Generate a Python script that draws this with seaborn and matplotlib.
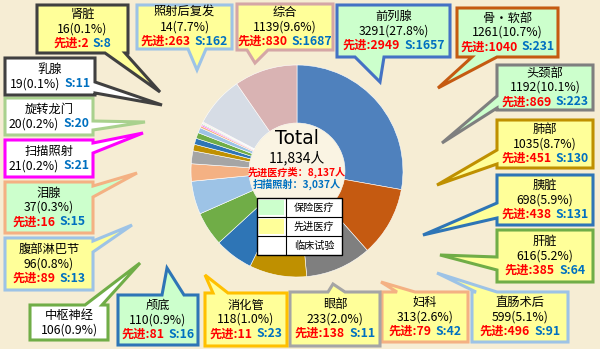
import matplotlib
matplotlib.use('Agg')
import matplotlib.pyplot as plt
import seaborn as sns
from matplotlib.patches import Polygon, Rectangle, Circle
from matplotlib.offsetbox import TextArea, HPacker, VPacker, AnnotationBbox

# ---------------- data ----------------
names = ['前列腺', '骨·软部', '头颈部', '肺部', '胰脏', '肝脏', '直肠术后', '妇科', '眼部', '消化管',
         '颅底', '中枢神经', '腹部淋巴节', '泪腺', '扫描照射', '旋转龙门', '乳腺', '肾脏', '照射后复发', '综合']
counts = [3291, 1261, 1192, 1035, 698, 616, 599, 313, 233, 118,
          110, 106, 96, 37, 21, 20, 19, 16, 914, 1139]
shown_counts = [3291, 1261, 1192, 1035, 698, 616, 599, 313, 233, 118,
                110, 106, 96, 37, 21, 20, 19, 16, 14, 1139]
pct_labels = ['27.8%', '10.7%', '10.1%', '8.7%', '5.9%', '5.2%', '5.1%', '2.6%', '2.0%', '1.0%',
              '0.9%', '0.9%', '0.8%', '0.3%', '0.2%', '0.2%', '0.1%', '0.1%', '7.7%', '9.6%']
advanced = [2949, 1040, 869, 451, 438, 385, 496, 79, 138, 11,
            81, None, 89, 16, None, None, None, 2, 263, 830]
scan = [1657, 231, 223, 130, 131, 64, 91, 42, 11, 23,
        16, None, 13, 15, 21, 20, 11, 8, 162, 1687]
category = ['保险', '保险', '保险', '先进', '先进', '先进', '先进', '先进', '先进', '先进',
            '保险', '临床', '先进', '保险', '临床', '临床', '临床', '先进', '先进', '先进']
total_text = '11,834人'
adv_total_text = '先进医疗类：8,137人'
scan_total_text = '扫描照射：3,037人'
legend_labels = ['保险医疗', '先进医疗', '临床试验']

# ---------------- styles / layout ----------------
slice_colors = ['#4F81BD', '#C55A11', '#7F7F7F', '#BF9000', '#2E75B6', '#70AD47', '#9DC3E6', '#F4B183',
                '#A5A5A5', '#BF9000', '#2E75B6', '#70AD47', '#9DC3E6', '#F4B183', '#FF00FF', '#A9D18E',
                '#DDEBF7', '#F8CBAD', '#D6DCE5', '#D9B3B3']
border_colors = ['#4472C4', '#C55A11', '#7F7F7F', '#BF9000', '#2E75B6', '#70AD47', '#9DC3E6', '#F4B183',
                 '#A5A5A5', '#FFC000', '#2E75B6', '#70AD47', '#9DC3E6', '#F4B183', '#FF00FF', '#A9D18E',
                 '#404040', '#404040', '#9DC3E6', '#D5A6A6']
fill_map = {'保险': '#CCFFCC', '先进': '#FFFF99', '临床': '#FFFFFF'}

# boxes in pixel coords (x0, y0, x1, y1) with y downward; tails (side, a, b, tipx, tipy)
boxes = [(337, 5, 450, 57), (457, 8, 558, 57), (497, 65, 593, 110), (497, 120, 593, 168),
         (497, 175, 593, 225), (497, 230, 593, 282), (472, 292, 568, 342), (382, 292, 468, 342),
         (290, 292, 380, 346), (205, 293, 287, 346), (118, 295, 198, 345), (30, 305, 108, 340),
         (5, 238, 93, 290), (5, 182, 93, 233), (5, 140, 93, 177), (5, 98, 93, 135),
         (5, 58, 95, 95), (37, 5, 128, 53), (137, 5, 232, 49), (237, 4, 333, 50)]
tails = [('b', 355, 384, 380, 82), ('b', 472, 497, 438, 88), ('l', 96, 108, 442, 143),
         ('l', 150, 164, 437, 185), ('l', 203, 218, 423, 235), ('l', 257, 270, 440, 255),
         ('t', 476, 497, 437, 273), ('t', 397, 415, 381, 282), ('t', 328, 345, 333, 284),
         ('t', 213, 228, 205, 275), ('t', 162, 184, 167, 268), ('t', 85, 102, 140, 263),
         ('r', 241, 252, 132, 225), ('r', 186, 197, 137, 173), ('r', 143, 153, 143, 133),
         ('r', 121, 130, 145, 122), ('r', 82, 93, 162, 105), ('b', 105, 125, 160, 92),
         ('b', 188, 206, 197, 70), ('b', 247, 268, 255, 63)]

W, H = 600, 349
BG = '#F6EDD4'
RED = '#FF0000'
BLUE = '#0070C0'
FS = 8.8

sns.set_theme(style='white')
plt.rcParams['font.family'] = ['Noto Sans CJK SC', 'DejaVu Sans']

fig = plt.figure(figsize=(6, 3.49), dpi=100, facecolor=BG)
ax = fig.add_axes([0, 0, 1, 1])
ax.set_facecolor(BG)


def Y(y):
    return H - y


cx, cy, R, hole = 297, 171, 106, 48
ax.pie(counts, colors=slice_colors, startangle=90, counterclock=False,
       center=(cx, Y(cy)), radius=R,
       wedgeprops=dict(width=R - hole, edgecolor='white', linewidth=0.4))
ax.add_patch(Circle((cx, Y(cy)), hole - 0.5, facecolor='#FAF4E3', edgecolor='none', zorder=2))
ax.set_xlim(0, W)
ax.set_ylim(0, H)
ax.set_aspect('equal')
ax.axis('off')


def callout_points(box, tail):
    x0, y0, x1, y1 = box
    side, a, b, tx, ty = tail
    pts = [(x0, y0)]
    if side == 't':
        pts += [(a, y0), (tx, ty), (b, y0)]
    pts.append((x1, y0))
    if side == 'r':
        pts += [(x1, a), (tx, ty), (x1, b)]
    pts.append((x1, y1))
    if side == 'b':
        pts += [(b, y1), (tx, ty), (a, y1)]
    pts.append((x0, y1))
    if side == 'l':
        pts += [(x0, b), (tx, ty), (x0, a)]
    return [(px, Y(py)) for px, py in pts]


def ta(s, color='black', bold=False, fs=FS):
    return TextArea(s, textprops=dict(fontsize=fs, color=color,
                                      fontweight='bold' if bold else 'normal',
                                      family=['Noto Sans CJK SC', 'DejaVu Sans']))


for i, name in enumerate(names):
    poly = Polygon(callout_points(boxes[i], tails[i]), closed=True,
                   facecolor=fill_map[category[i]], edgecolor=border_colors[i],
                   linewidth=2.2, joinstyle='miter', zorder=5)
    ax.add_patch(poly)
    count_str = f'{shown_counts[i]}({pct_labels[i]})'
    lines = [ta(name)]
    if advanced[i] is not None:
        lines.append(ta(count_str))
        parts = [ta(f'先进:{advanced[i]}', RED, True)]
        if scan[i] is not None:
            parts.append(ta(f'S:{scan[i]}', BLUE, True))
        lines.append(HPacker(children=parts, sep=3, pad=0, align='baseline'))
    elif scan[i] is not None:
        lines.append(HPacker(children=[ta(count_str), ta(f'S:{scan[i]}', BLUE, True)],
                             sep=3, pad=0, align='baseline'))
    else:
        lines.append(ta(count_str))
    vp = VPacker(children=lines, sep=1.0, pad=0, align='center')
    x0, y0, x1, y1 = boxes[i]
    ab = AnnotationBbox(vp, ((x0 + x1) / 2, Y((y0 + y1) / 2)), frameon=False,
                        box_alignment=(0.5, 0.5), pad=0, zorder=6)
    ax.add_artist(ab)

# center texts
ax.text(cx, Y(139), 'Total', ha='center', va='center', fontsize=13.5, color='black', zorder=4,
        family=['DejaVu Sans'])
ax.text(cx, Y(158), total_text, ha='center', va='center', fontsize=10, color='black', zorder=4)
ax.text(cx, Y(172), adv_total_text, ha='center', va='center', fontsize=7.3, color=RED,
        fontweight='bold', zorder=4)
ax.text(cx, Y(184), scan_total_text, ha='center', va='center', fontsize=7.3, color=BLUE,
        fontweight='bold', zorder=4)

# legend table
lx0, lx1, lxm = 257, 342, 286
ly = [198, 217, 236, 255]
sw_colors = [fill_map['保险'], fill_map['先进'], fill_map['临床']]
ax.add_patch(Rectangle((lx0, Y(ly[3])), lx1 - lx0, ly[3] - ly[0], facecolor='white',
                       edgecolor='black', linewidth=1, zorder=4))
for r in range(3):
    ax.add_patch(Rectangle((lx0 + 2, Y(ly[r + 1] - 2)), lxm - lx0 - 4, ly[r + 1] - ly[r] - 4,
                           facecolor=sw_colors[r], edgecolor='none', zorder=4))
    ax.text((lxm + lx1) / 2, Y((ly[r] + ly[r + 1]) / 2), legend_labels[r], ha='center', va='center',
            fontsize=7.3, color='black', zorder=5)
    if r > 0:
        ax.plot([lx0, lx1], [Y(ly[r]), Y(ly[r])], color='black', linewidth=0.8, zorder=5)
ax.plot([lxm, lxm], [Y(ly[0]), Y(ly[3])], color='black', linewidth=0.8, zorder=5)

fig.savefig('out.png', dpi=100, facecolor=BG)
